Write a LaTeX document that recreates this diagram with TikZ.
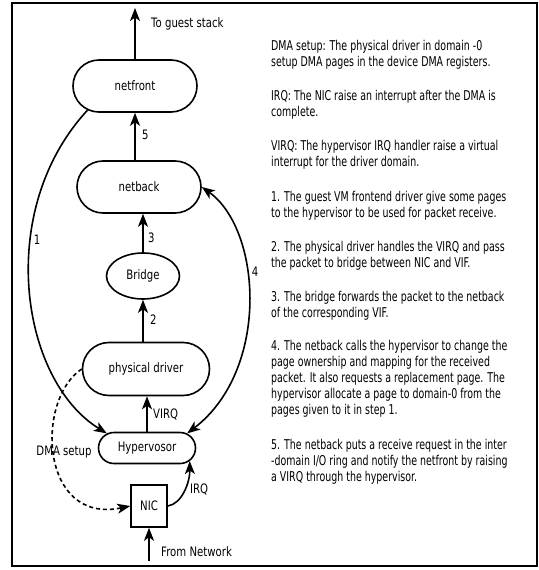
\documentclass[tikz,border=0pt]{standalone}
\usepackage{fontspec}
\newfontfamily\labelfont{DejaVu Sans}[FakeStretch=0.78]
\newfontfamily\bodyfont{DejaVu Sans}[FakeStretch=0.70]
\usetikzlibrary{arrows.meta,shapes.misc,shapes.geometric}

\begin{document}
\begin{tikzpicture}[x=1bp,y=-1bp,
  tip/.tip={Stealth[length=13bp,width=10bp,inset=3.5bp]},
  lbl/.style={font=\labelfont\fontsize{13bp}{15bp}\selectfont, inner sep=0pt},
  pill/.style={rounded rectangle, draw, line width=1.6bp, inner sep=0pt,
    font=\labelfont\fontsize{13bp}{15bp}\selectfont},
  ovalbox/.style={ellipse, draw, line width=1.6bp, inner sep=0pt,
    font=\labelfont\fontsize{13bp}{15bp}\selectfont},
  nicbox/.style={rectangle, draw, line width=1.6bp, inner sep=0pt,
    font=\labelfont\fontsize{13bp}{15bp}\selectfont},
  flow/.style={line width=1.6bp, -tip},
  twoway/.style={line width=1.6bp, tip-tip},
  dmaflow/.style={line width=1.6bp, dash pattern=on 4bp off 3bp, -tip},
  para/.style={anchor=base west, inner sep=0pt, font=\bodyfont\fontsize{13.5bp}{16bp}\selectfont}
]
\useasboundingbox (0,0) rectangle (539,570);

% outer frame
\draw[line width=2bp] (12,3) rectangle (537,566);

% components of the receive path
\node[pill, minimum width=124bp, minimum height=52bp] (front) at (135,86) {netfront};
\node[pill, minimum width=124bp, minimum height=52bp] (back) at (139,187) {netback};
\node[ovalbox, minimum width=73bp, minimum height=46bp] (bridge) at (143,276) {Bridge};
\node[pill, minimum width=127bp, minimum height=53bp] (phys) at (146,369) {physical driver};
\node[pill, minimum width=97bp, minimum height=31bp] (hyp) at (147,448) {Hypervosor};
\node[nicbox, minimum width=36bp, minimum height=42bp] (nic) at (149,506) {NIC};

\coordinate (stack) at (135,8);
\coordinate (wire) at (149,561);

% straight hand-offs
\draw[flow] (front.north) -- (stack);
\node[lbl, anchor=west] (stacklbl) at (151,24) {To guest stack};
\draw[flow] (back.north -| front.south) -- (front.south);
\node[lbl, anchor=west] (l5) at (142,135) {5};
\draw[flow] (bridge.north) -- (bridge.north |- back.south);
\node[lbl, anchor=west] (l3) at (148,238) {3};
\draw[flow] (bridge.south |- phys.north) -- (bridge.south);
\node[lbl, anchor=west] (l2) at (150,320) {2};
\draw[flow] (hyp.north) -- (hyp.north |- phys.south);
\node[lbl, anchor=west] (lvirq) at (153,415) {VIRQ};
\draw[flow] (wire) -- (nic.south);
\node[lbl, anchor=west] (netlbl) at (161,552) {From Network};

% interrupt from the NIC
\draw[flow] (nic.east) .. controls (182,504) and (190,482) .. (hyp.-17);
\node[lbl, anchor=west] (lirq) at (190,490) {IRQ};

% DMA setup by the physical driver
\draw[dmaflow] (phys.west) .. controls (35,400) and (40,525) .. (nic.west);
\node[lbl] (ldma) at (64,452) {DMA setup};

% step 1: pages handed to the hypervisor
\draw[flow] (front.-153) .. controls (-5,210) and (20,380) .. (hyp.160);
\node[lbl] (l1) at (37,240) {1};

% step 4: page flip between netback and hypervisor
\draw[twoway] (hyp.20) .. controls (270,370) and (262,230) .. (back.east);
\node[lbl] (l4) at (255,272) {4};

% explanations
\node[para] (t1a) at (271,51) {DMA setup: The physical driver in domain -0};
\node[para] (t1b) at (271,67) {setup DMA pages in the device DMA registers.};
\node[para] (t2a) at (271,101) {IRQ: The NIC raise an interrupt after the DMA is};
\node[para] (t2b) at (271,117) {complete.};
\node[para] (t3a) at (271,151) {VIRQ: The hypervisor IRQ handler raise a virtual};
\node[para] (t3b) at (271,167) {interrupt for the driver domain.};
\node[para] (t4a) at (271,201) {1. The guest VM frontend driver give some pages};
\node[para] (t4b) at (271,217) {to the hypervisor to be used for packet receive.};
\node[para] (t5a) at (271,251) {2. The physical driver handles the VIRQ and pass};
\node[para] (t5b) at (271,267) {the packet to bridge between NIC and VIF.};
\node[para] (t6a) at (271,301) {3. The bridge forwards the packet to the netback};
\node[para] (t6b) at (271,317) {of the corresponding VIF.};
\node[para] (t7a) at (271,350) {4. The netback calls the hypervisor to change the};
\node[para] (t7b) at (271,366) {page ownership and mapping for the received};
\node[para] (t7c) at (271,382) {packet. It also requests a replacement page. The};
\node[para] (t7d) at (271,398) {hypervisor allocate a page to domain-0 from the};
\node[para] (t7e) at (271,414) {pages given to it in step 1.};
\node[para] (t8a) at (271,449) {5. The netback puts a receive request in the inter};
\node[para] (t8b) at (271,465) {-domain I/O ring and notify the netfront by raising};
\node[para] (t8c) at (271,481) {a VIRQ through the hypervisor.};
\end{tikzpicture}
\end{document}
